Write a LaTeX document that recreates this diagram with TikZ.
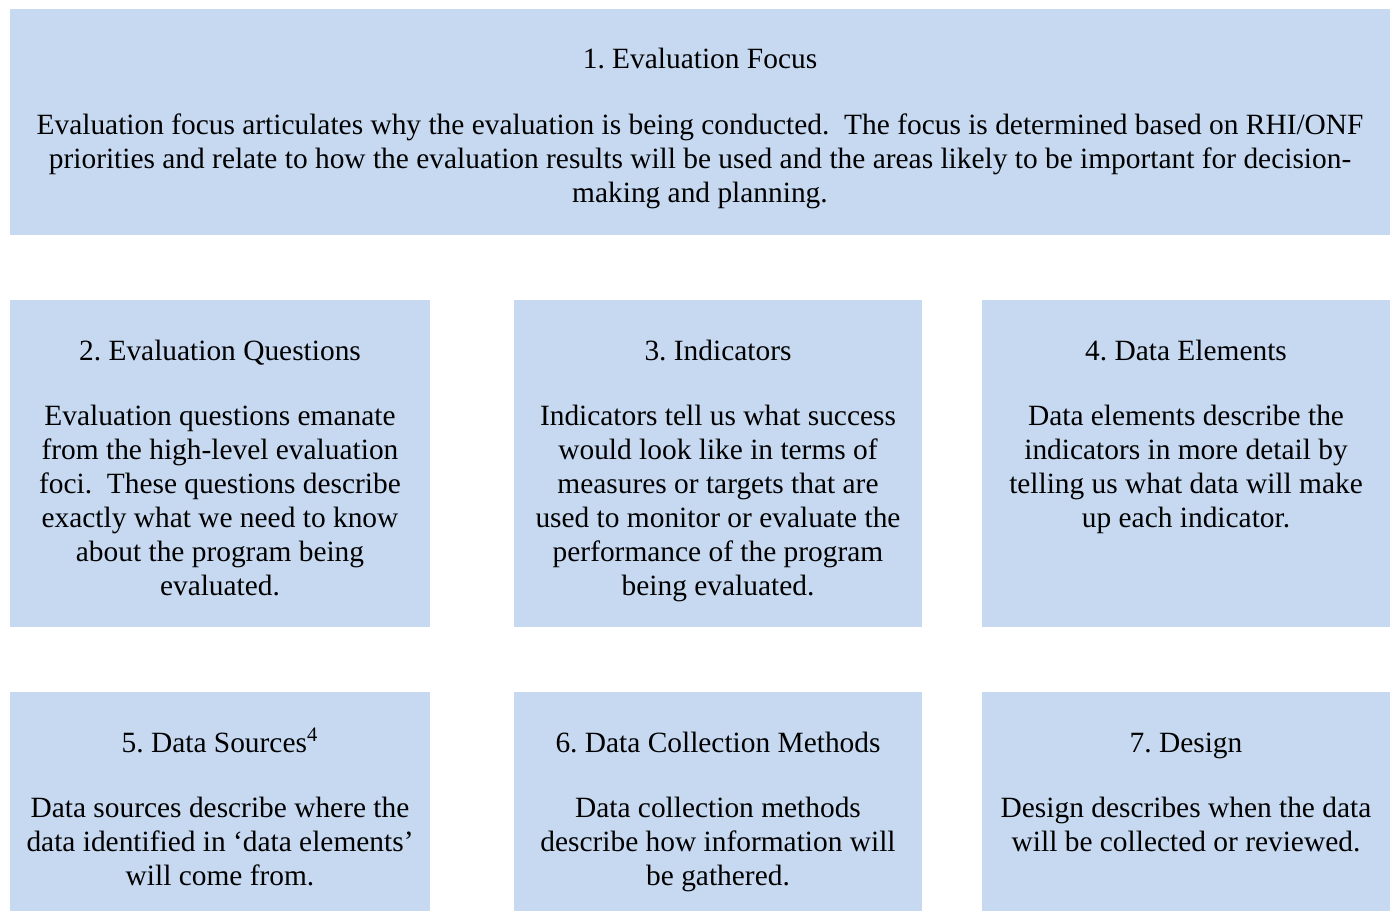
\documentclass[tikz,border=0pt]{standalone}
\usepackage{fontspec}
\setmainfont{Liberation Serif}
\usepackage{xcolor}
\usepackage{tikz}
\usetikzlibrary{positioning}
\usetikzlibrary{calc}
\frenchspacing

\definecolor{panelblue}{HTML}{C6D9F1}

\tikzset{
	panel/.style={fill=panelblue,draw=none,inner sep=0pt,outer sep=0pt,anchor=north west},
	head/.style={anchor=base,inner sep=0pt,font=\fontsize{14.7}{17}\selectfont},
	body/.style={anchor=base,inner sep=0pt,align=flush center,text width=220pt,font=\fontsize{14.7}{17}\selectfont}
}

\begin{document}
\begin{tikzpicture}[x=0.5pt,y=-0.5pt]
	\useasboundingbox (0,0) rectangle (1395,911);
	% the boxes
	\node[panel,minimum width=690pt,minimum height=113pt] (focus) at (10,9) {};
	\node[panel,minimum width=210pt,minimum height=163.5pt] (questions) at (10,300) {};
	\node[panel,minimum width=204pt,minimum height=163.5pt] (indicators) at (514,300) {};
	\node[panel,minimum width=204pt,minimum height=163.5pt] (elements) at (982,300) {};
	\node[panel,minimum width=210pt,minimum height=109.5pt] (sources) at (10,692) {};
	\node[panel,minimum width=204pt,minimum height=109.5pt] (methods) at (514,692) {};
	\node[panel,minimum width=204pt,minimum height=109.5pt] (design) at (982,692) {};
	% titles
	\node[head] (focus title) at ([yshift=-29.5pt]focus.north) {1. Evaluation Focus};
	\node[head] (questions title) at ([yshift=-30pt]questions.north) {2. Evaluation Questions};
	\node[head] (indicators title) at ([yshift=-30pt]indicators.north) {3. Indicators};
	\node[head] (elements title) at ([yshift=-30pt]elements.north) {4. Data Elements};
	\node[head] (sources title) at ([yshift=-30pt]sources.north) {5. Data Sources\textsuperscript{4}};
	\node[head] (methods title) at ([yshift=-30pt]methods.north) {6. Data Collection Methods};
	\node[head] (design title) at ([yshift=-30pt]design.north) {7. Design};
	% texts
	\node[body,text width=685pt] (focus text) at ([yshift=-33pt]focus title.base) {Evaluation focus articulates why the evaluation is being conducted.\ \ The focus is determined based on RHI/ONF\\ priorities and relate to how the evaluation results will be used and the areas likely to be important for decision-\\ making and planning.};
	\node[body] (questions text) at ([yshift=-32.5pt]questions title.base) {Evaluation questions emanate\\ from the high-level evaluation\\ foci.\ \ These questions describe\\ exactly what we need to know\\ about the program being\\ evaluated.};
	\node[body] (indicators text) at ([yshift=-32.5pt]indicators title.base) {Indicators tell us what success\\ would look like in terms of\\ measures or targets that are\\ used to monitor or evaluate the\\ performance of the program\\ being evaluated.};
	\node[body] (elements text) at ([yshift=-32.5pt]elements title.base) {Data elements describe the\\ indicators in more detail by\\ telling us what data will make\\ up each indicator.};
	\node[body] (sources text) at ([yshift=-32.5pt]sources title.base) {Data sources describe where the\\ data identified in ‘data elements’\\ will come from.};
	\node[body] (methods text) at ([yshift=-32.5pt]methods title.base) {Data collection methods\\ describe how information will\\ be gathered.};
	\node[body] (design text) at ([yshift=-32.5pt]design title.base) {Design describes when the data\\ will be collected or reviewed.};
\end{tikzpicture}
\end{document}
